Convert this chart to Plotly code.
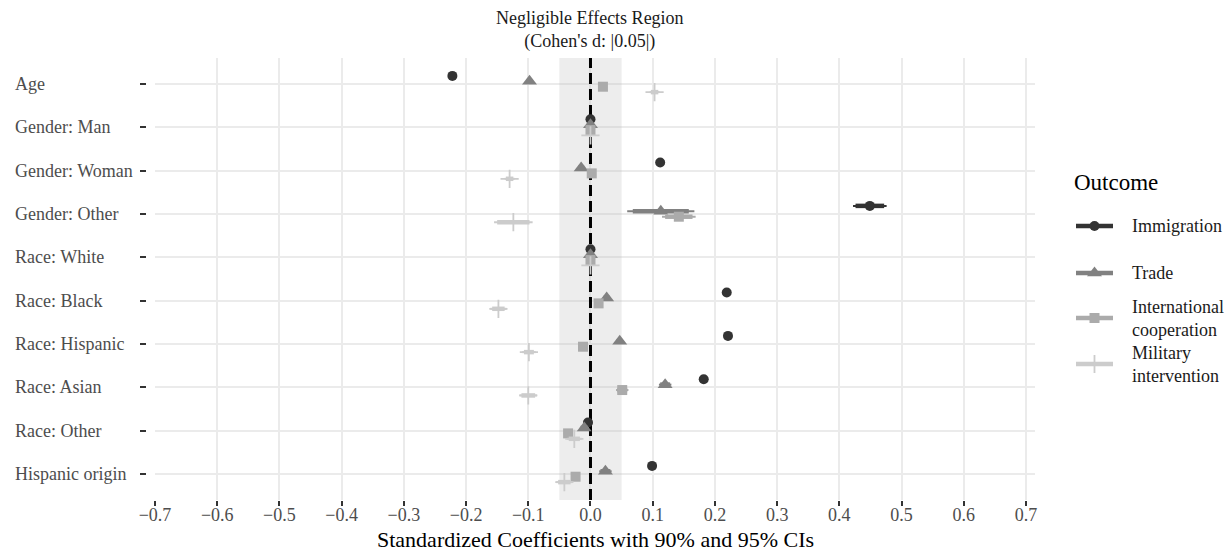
import plotly.graph_objects as go

# Predictors, listed top to bottom
terms = ["Age", "Gender: Man", "Gender: Woman", "Gender: Other", "Race: White",
         "Race: Black", "Race: Hispanic", "Race: Asian", "Race: Other", "Hispanic origin"]

outcomes = ["Immigration", "Trade", "International\ncooperation", "Military\nintervention"]
colors = ["#333333", "#818181", "#ababab", "#cccccc"]
symbols = ["circle", "triangle-up", "square", "cross-thin"]
marker_sizes = [10, 13, 10, 13]

# Standardized coefficients per outcome
est_immigration = [-0.222, 0.0, 0.112, 0.449, 0.0, 0.219, 0.221, 0.182, -0.004, 0.099]
est_trade = [-0.098, 0.0, -0.015, 0.113, 0.0, 0.026, 0.047, 0.120, -0.010, 0.024]
est_cooperation = [0.020, 0.0, 0.002, 0.142, 0.0, 0.013, -0.012, 0.051, -0.036, -0.024]
est_military = [0.103, 0.0, -0.130, -0.124, 0.0, -0.148, -0.099, -0.100, -0.026, -0.042]

# Half-widths of the 90% intervals
hw90_immigration = [0.004, 0.0, 0.005, 0.023, 0.0, 0.005, 0.005, 0.006, 0.006, 0.004]
hw90_trade = [0.004, 0.0, 0.005, 0.045, 0.0, 0.005, 0.005, 0.008, 0.006, 0.008]
hw90_cooperation = [0.005, 0.0, 0.005, 0.022, 0.0, 0.005, 0.005, 0.008, 0.006, 0.006]
hw90_military = [0.006, 0.0, 0.006, 0.026, 0.0, 0.010, 0.008, 0.011, 0.009, 0.010]

# Half-widths of the 95% intervals
hw95_immigration = [0.005, 0.0, 0.006, 0.027, 0.0, 0.006, 0.006, 0.007, 0.007, 0.005]
hw95_trade = [0.005, 0.0, 0.006, 0.054, 0.0, 0.006, 0.006, 0.010, 0.007, 0.010]
hw95_cooperation = [0.006, 0.0, 0.006, 0.027, 0.0, 0.006, 0.006, 0.010, 0.007, 0.007]
hw95_military = [0.008, 0.0, 0.008, 0.031, 0.0, 0.013, 0.011, 0.014, 0.012, 0.013]

x_ticks = [-0.7, -0.6, -0.5, -0.4, -0.3, -0.2, -0.1, 0.0, 0.1, 0.2, 0.3, 0.4, 0.5, 0.6, 0.7]
negligible = 0.05

estimates = [est_immigration, est_trade, est_cooperation, est_military]
hw90 = [hw90_immigration, hw90_trade, hw90_cooperation, hw90_military]
hw95 = [hw95_immigration, hw95_trade, hw95_cooperation, hw95_military]

W, H = 1225, 552
FONT = "Liberation Serif"
n = len(terms)
row_y = [n - i for i in range(n)]          # Age on top
dodge = [0.1875, 0.0625, -0.0625, -0.1875]  # vertical dodge per outcome
y_lo, y_hi = 0.4, n + 0.6

fig = go.Figure()

# Negligible-effects band (drawn as a trace so it sits above the grid)
fig.add_trace(go.Scatter(x=[-negligible, negligible, negligible, -negligible, -negligible],
                         y=[y_lo, y_lo, y_hi, y_hi, y_lo], mode="lines", fill="toself",
                         fillcolor="rgba(190,190,190,0.28)", line=dict(width=0),
                         showlegend=False, hoverinfo="skip"))
# Reference line at zero
fig.add_trace(go.Scatter(x=[0, 0], y=[y_lo, y_hi], mode="lines",
                         line=dict(color="black", width=3, dash="11px,5px"),
                         showlegend=False, hoverinfo="skip"))


def segs(lo, hi, ys):
    xs, yy = [], []
    for a, b, y in zip(lo, hi, ys):
        xs += [a, b, None]
        yy += [y, y, None]
    return xs, yy


def marker_style(k):
    mk = dict(symbol=symbols[k], size=marker_sizes[k], color=colors[k])
    if symbols[k] == "cross-thin":
        mk["line"] = dict(color=colors[k], width=1.8)
    else:
        mk["line"] = dict(width=0)
    return mk


for k, name in enumerate(outcomes):
    ys = [r + dodge[k] for r in row_y]
    e = estimates[k]
    # 95% interval (thin)
    xs, yy = segs([v - h for v, h in zip(e, hw95[k])], [v + h for v, h in zip(e, hw95[k])], ys)
    fig.add_trace(go.Scatter(x=xs, y=yy, mode="lines", line=dict(color=colors[k], width=2),
                             showlegend=False, hoverinfo="skip"))
    # 90% interval (thick)
    xs, yy = segs([v - h for v, h in zip(e, hw90[k])], [v + h for v, h in zip(e, hw90[k])], ys)
    fig.add_trace(go.Scatter(x=xs, y=yy, mode="lines", line=dict(color=colors[k], width=4.5),
                             showlegend=False, hoverinfo="skip"))
    fig.add_trace(go.Scatter(x=e, y=ys, mode="markers", marker=marker_style(k),
                             name=name.replace("\n", " "), showlegend=False))

# Legend keys drawn on their own small axes at the right
leg_y = [226, 273, 318, 364]
for k, name in enumerate(outcomes):
    fig.add_trace(go.Scatter(x=[0, 1], y=[leg_y[k], leg_y[k]], mode="lines",
                             line=dict(color=colors[k], width=4.5),
                             xaxis="x2", yaxis="y2", showlegend=False, hoverinfo="skip"))
    fig.add_trace(go.Scatter(x=[0.5], y=[leg_y[k]], mode="markers", marker=marker_style(k),
                             xaxis="x2", yaxis="y2", showlegend=False, hoverinfo="skip"))

x0, x1 = 155, 1035
y_top, y_bot = 58, 500

fig.update_layout(
    width=W, height=H,
    margin=dict(l=0, r=0, t=0, b=0),
    paper_bgcolor="white", plot_bgcolor="white",
    font=dict(family=FONT, size=18, color="#4d4d4d"),
    showlegend=False,
    xaxis=dict(domain=[x0 / W, x1 / W], range=[-0.7, 0.7145], tickvals=x_ticks,
               tickformat=".1f", showgrid=True, gridcolor="#ebebeb", gridwidth=1.8,
               zeroline=False, showline=False, ticks="outside", ticklen=5, tickwidth=2,
               tickcolor="#333333", tickfont=dict(size=18, color="#4d4d4d"),
               ticklabelstandoff=-7, anchor="y", automargin=False),
    yaxis=dict(domain=[1 - y_bot / H, 1 - y_top / H], range=[y_lo, y_hi],
               tickvals=row_y, showticklabels=False, showgrid=True, gridcolor="#ebebeb",
               gridwidth=1.8, zeroline=False, showline=False, ticks="outside", ticklen=6,
               tickwidth=2, tickcolor="#333333", anchor="free", position=146 / W,
               automargin=False),
    xaxis2=dict(domain=[1076 / W, 1113 / W], range=[0, 1], visible=False, anchor="y2"),
    yaxis2=dict(domain=[0, 1], range=[H, 0], visible=False, anchor="x2"),
)

# Row labels, left aligned
for t, y in zip(terms, row_y):
    fig.add_annotation(text=t, xref="paper", yref="y", x=13 / W, y=y, xanchor="left",
                       yanchor="middle", showarrow=False, font=dict(size=18, color="#4d4d4d"))

fig.add_annotation(text="Negligible Effects Region<br>(Cohen's d: |0.05|)", xref="x", yref="paper",
                   x=0, y=1 - 30 / H, xanchor="center", yanchor="middle", showarrow=False,
                   font=dict(size=18, color="#1a1a1a"))

fig.add_annotation(text="Standardized Coefficients with 90% and 95% CIs", xref="paper", yref="paper",
                   x=(x0 + x1) / 2 / W, y=1 - 539 / H, xanchor="center", yanchor="middle",
                   showarrow=False, font=dict(size=22, color="black"))

fig.add_annotation(text="Outcome", xref="paper", yref="paper", x=1072 / W, y=1 - 182 / H,
                   xanchor="left", yanchor="middle", showarrow=False,
                   font=dict(size=23, color="black"))
for k, name in enumerate(outcomes):
    fig.add_annotation(text=name.replace("\n", "<br>"), xref="paper", yref="paper", x=1130 / W,
                       y=1 - leg_y[k] / H, xanchor="left", yanchor="middle", align="left",
                       showarrow=False, font=dict(size=18, color="#1a1a1a"))

fig.write_html("out.html")
